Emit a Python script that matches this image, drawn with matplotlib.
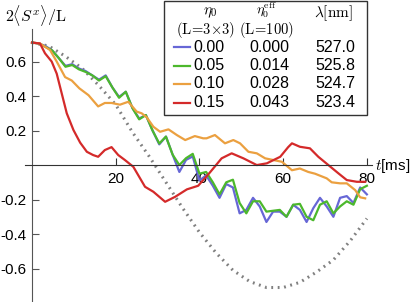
import numpy as np
import matplotlib
matplotlib.use("Agg")
import matplotlib.pyplot as plt
from matplotlib.lines import Line2D
from matplotlib.patches import Rectangle

plt.rcParams['font.family'] = ['Liberation Sans', 'DejaVu Sans']
plt.rcParams['mathtext.fontset'] = 'cm'

# time grid of the eta0=0.00 / 0.05 runs (ms)
t_grid = [0.0, 1.6, 3.2, 4.8, 6.4, 8.0, 9.6, 11.2, 12.8, 14.4, 16.0, 17.6, 19.2,
          20.8, 22.4, 24.0, 25.6, 27.2, 28.8, 30.4, 32.0, 33.6, 35.2, 36.8, 38.4,
          40.0, 41.6, 43.2, 44.8, 46.4, 48.0, 49.6, 51.2, 52.8, 54.4, 56.0, 57.6,
          59.2, 60.8, 62.4, 64.0, 65.6, 67.2, 68.8, 70.4, 72.0, 73.6, 75.2, 76.8,
          78.4, 80.0]

sx_000 = [0.71, 0.705, 0.69, 0.665, 0.62, 0.575, 0.585, 0.56, 0.545, 0.52, 0.495,
          0.52, 0.45, 0.395, 0.425, 0.33, 0.27, 0.29, 0.20, 0.12, 0.165, 0.06,
          -0.04, 0.03, 0.05, -0.09, -0.06, -0.12, -0.19, -0.11, -0.13, -0.28,
          -0.26, -0.19, -0.24, -0.33, -0.27, -0.27, -0.30, -0.23, -0.26, -0.33,
          -0.25, -0.19, -0.24, -0.30, -0.19, -0.18, -0.22, -0.13, -0.17]

sx_005 = [0.71, 0.705, 0.685, 0.665, 0.62, 0.57, 0.58, 0.555, 0.54, 0.52, 0.49,
          0.515, 0.45, 0.39, 0.425, 0.33, 0.265, 0.29, 0.20, 0.125, 0.165, 0.06,
          0.0, 0.04, 0.065, -0.05, -0.04, -0.10, -0.17, -0.10, -0.085, -0.22,
          -0.28, -0.21, -0.21, -0.27, -0.265, -0.26, -0.30, -0.23, -0.225, -0.30,
          -0.32, -0.23, -0.21, -0.28, -0.24, -0.21, -0.23, -0.14, -0.12]

t_010 = [0.0, 1.9, 4.3, 5.9, 7.9, 9.5, 11.3, 13.5, 15.8, 17.4, 19.0, 21.0, 23.0,
         25.0, 26.2, 27.4, 29.0, 30.6, 32.6, 34.6, 36.6, 38.9, 40.9, 41.7, 43.7,
         46.1, 48.1, 49.7, 51.7, 53.7, 55.7, 57.7, 59.7, 62.1, 64.0, 66.0, 67.6,
         70.4, 71.6, 73.6, 75.2, 77.2, 78.4, 79.6]
sx_010 = [0.71, 0.705, 0.667, 0.60, 0.51, 0.49, 0.445, 0.405, 0.34, 0.36, 0.36,
          0.35, 0.367, 0.31, 0.30, 0.277, 0.222, 0.193, 0.207, 0.174, 0.145,
          0.168, 0.155, 0.155, 0.174, 0.126, 0.145, 0.126, 0.077, 0.068, 0.039,
          0.029, 0.019, -0.03, -0.02, -0.04, -0.05, -0.077, -0.10, -0.106,
          -0.106, -0.145, -0.187, -0.193]

t_015 = [0.0, 1.9, 3.1, 4.7, 5.9, 7.1, 8.3, 9.9, 11.5, 13.1, 14.6, 15.8, 17.4,
         19.0, 20.6, 22.2, 24.2, 27.0, 29.0, 31.8, 34.2, 37.0, 39.7, 42.5, 45.3,
         47.7, 50.5, 53.7, 56.1, 59.3, 61.2, 62.1, 64.0, 66.4, 68.4, 70.8, 73.2,
         75.2, 77.6, 79.6]
sx_015 = [0.71, 0.705, 0.648, 0.60, 0.53, 0.415, 0.30, 0.203, 0.13, 0.077, 0.058,
          0.048, 0.087, 0.104, 0.058, 0.029, -0.01, -0.126, -0.155, -0.213,
          -0.184, -0.141, -0.12, -0.043, 0.039, 0.068, 0.039, 0.0, 0.01, 0.048,
          0.104, 0.126, 0.106, 0.097, 0.048, 0.0, -0.048, -0.087, -0.097, -0.097]

# non-interacting reference (gray dotted)
t_ref = [0, 4, 8, 12, 16, 20, 24, 28, 32, 36, 40, 44, 48, 52, 56, 60, 64, 68,
         72, 76, 80]
sx_ref = [0.71, 0.69, 0.63, 0.56, 0.46, 0.35, 0.19, 0.05, -0.10, -0.25, -0.39,
          -0.51, -0.61, -0.675, -0.71, -0.71, -0.68, -0.62, -0.55, -0.44, -0.31]

eta0 = ['0.00', '0.05', '0.10', '0.15']
eta_eff = ['0.000', '0.014', '0.028', '0.043']
lam = ['527.0', '525.8', '524.7', '523.4']
colors = ['#6767d6', '#4cb82c', '#eba040', '#d42a2a']

W, H = 415, 302
fig = plt.figure(figsize=(W / 100, H / 100), dpi=100)
ax = fig.add_axes([0, 0, 1, 1])
ax.patch.set_visible(False)

ax.plot(t_ref, sx_ref, color='#808080', lw=2.2, ls=(0, (0.6, 1.5)),
        zorder=1)
series = [(t_grid, sx_000), (t_grid, sx_005), (t_010, sx_010), (t_015, sx_015)]
for (tt, yy), c in zip(series, colors):
    ax.plot(tt, yy, color=c, lw=1.6, zorder=2)

ax.set_xlim(-7.65, 91.5)
ax.set_ylim(-0.794, 0.957)

for s in ['top', 'right']:
    ax.spines[s].set_visible(False)
ax.spines['left'].set_position(('data', 0))
ax.spines['bottom'].set_position(('data', 0))
ax.spines['left'].set_bounds(-0.794, 0.79)
ax.spines['bottom'].set_bounds(-1.7, 81.2)
ax.spines['left'].set_color('#555555')
ax.spines['bottom'].set_color('#333333')

ax.set_xticks([20, 40, 60, 80])
ax.set_yticks([-0.6, -0.4, -0.2, 0.2, 0.4, 0.6])
ax.set_yticklabels(['-0.6', '-0.4', '-0.2', '0.2', '0.4', '0.6'])
ax.tick_params(axis='x', direction='in', length=5, width=0.8, pad=5,
               labelsize=11, color='#333333')
ax.tick_params(axis='y', direction='in', length=5, width=0.8, pad=4,
               labelsize=11, color='#555555')

ax.text(375 / W, 1 - 166 / H, r'$t$[ms]', transform=fig.transFigure,
        ha='left', va='center', fontsize=11)
ax.text(5 / W, 1 - 15 / H, r'$2\langle S^x\rangle/\mathrm{L}$',
        transform=fig.transFigure, ha='left', va='center', fontsize=11.5)

# legend table
def fx(px):
    return px / W


def fy(py):
    return 1 - py / H


fig.patches.append(Rectangle((fx(164), fy(115)), fx(367) - fx(164),
                             fy(0.5) - fy(115), transform=fig.transFigure,
                             fill=True, facecolor='white', edgecolor='#333333',
                             lw=1.0, zorder=5))
fig.text(fx(210), fy(13), r'$\eta_0$', ha='center', va='center', fontsize=11,
         zorder=6)
fig.text(fx(206), fy(29.5), r'$(\mathrm{L}\!=\!3{\times}3)$', ha='center',
         va='center', fontsize=10.5, zorder=6)
fig.text(fx(266), fy(9.5), r'$\eta_0^{\mathrm{eff}}$', ha='center', va='center',
         fontsize=10, zorder=6)
fig.text(fx(267), fy(29.5), r'$(\mathrm{L}\!=\!100)$', ha='center', va='center',
         fontsize=10.5, zorder=6)
fig.text(fx(333), fy(13), r'$\lambda[\mathrm{nm}]$', ha='center', va='center',
         fontsize=11, zorder=6)

row_y = [47, 65.5, 84, 102.5]
for i in range(4):
    y = fy(row_y[i])
    fig.lines.append(Line2D([fx(174), fx(190)], [y, y], color=colors[i],
                            lw=1.6, transform=fig.transFigure, zorder=6))
    fig.text(fx(209), y, eta0[i], ha='center', va='center', fontsize=11.5,
             zorder=6)
    fig.text(fx(269), y, eta_eff[i], ha='center', va='center', fontsize=11.5,
             zorder=6)
    fig.text(fx(335), y, lam[i], ha='center', va='center', fontsize=11.5,
             zorder=6)

fig.savefig('out.png', dpi=100)
